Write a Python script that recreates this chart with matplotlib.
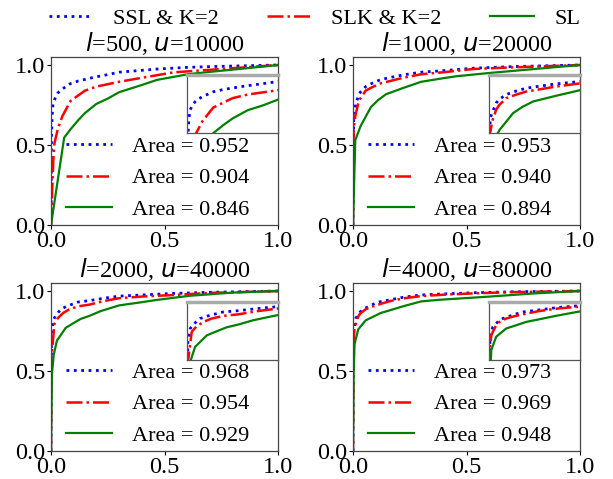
import matplotlib
matplotlib.use("Agg")
import matplotlib.pyplot as plt

plt.rcParams['font.family'] = ['Liberation Serif', 'DejaVu Sans']
plt.rcParams['mathtext.fontset'] = 'dejavusans'

titles = ["$l$=500, $u$=10000", "$l$=1000, $u$=20000",
          "$l$=2000, $u$=40000", "$l$=4000, $u$=80000"]
series_names = ["SSL & K=2", "SLK & K=2", "SL"]
areas = [[0.952, 0.904, 0.846], [0.953, 0.940, 0.894],
         [0.968, 0.954, 0.929], [0.973, 0.969, 0.948]]

# Panel 1: l=500
p1_ssl_fpr = [0, 0.002, 0.005, 0.009, 0.02, 0.03, 0.05, 0.086, 0.12, 0.195, 0.25, 0.3, 0.47, 0.6, 0.7, 0.85, 1.0]
p1_ssl_tpr = [0, 0.55, 0.68, 0.757, 0.80, 0.825, 0.85, 0.884, 0.90, 0.925, 0.94, 0.955, 0.975, 0.985, 0.99, 0.995, 1.0]
p1_slk_fpr = [0, 0.003, 0.01, 0.015, 0.03, 0.05, 0.086, 0.12, 0.15, 0.2, 0.3, 0.4, 0.54, 0.7, 0.85, 1.0]
p1_slk_tpr = [0, 0.12, 0.4, 0.51, 0.60, 0.68, 0.775, 0.81, 0.84, 0.865, 0.895, 0.92, 0.954, 0.97, 0.985, 1.0]
p1_sl_fpr = [0, 0.058, 0.087, 0.12, 0.15, 0.2, 0.25, 0.3, 0.4, 0.467, 0.606, 0.7, 0.85, 1.0]
p1_sl_tpr = [0, 0.546, 0.60, 0.655, 0.70, 0.757, 0.79, 0.83, 0.875, 0.907, 0.943, 0.957, 0.978, 1.0]

# Panel 2: l=1000
p2_ssl_fpr = [0, 0.003, 0.01, 0.023, 0.032, 0.056, 0.09, 0.123, 0.164, 0.22, 0.3, 0.4, 0.53, 0.7, 1.0]
p2_ssl_tpr = [0, 0.70, 0.74, 0.806, 0.83, 0.865, 0.89, 0.909, 0.922, 0.938, 0.955, 0.965, 0.98, 0.99, 1.0]
p2_slk_fpr = [0, 0.003, 0.01, 0.023, 0.032, 0.056, 0.09, 0.123, 0.164, 0.22, 0.3, 0.4, 0.53, 0.7, 1.0]
p2_slk_tpr = [0, 0.60, 0.68, 0.76, 0.79, 0.84, 0.865, 0.886, 0.90, 0.92, 0.942, 0.955, 0.975, 0.985, 1.0]
p2_sl_fpr = [0, 0.01, 0.034, 0.079, 0.11, 0.145, 0.22, 0.3, 0.4, 0.457, 0.6, 0.8, 1.0]
p2_sl_tpr = [0, 0.53, 0.62, 0.737, 0.78, 0.817, 0.856, 0.895, 0.918, 0.93, 0.95, 0.975, 1.0]

# Panel 3: l=2000
p3_ssl_fpr = [0, 0.002, 0.01, 0.02, 0.043, 0.07, 0.119, 0.17, 0.229, 0.3, 0.4, 0.54, 0.7, 1.0]
p3_ssl_tpr = [0, 0.72, 0.817, 0.845, 0.886, 0.905, 0.931, 0.94, 0.954, 0.968, 0.975, 0.985, 0.992, 1.0]
p3_slk_fpr = [0, 0.002, 0.015, 0.03, 0.054, 0.08, 0.119, 0.17, 0.229, 0.3, 0.4, 0.54, 0.7, 1.0]
p3_slk_tpr = [0, 0.58, 0.794, 0.83, 0.863, 0.885, 0.904, 0.915, 0.936, 0.955, 0.965, 0.975, 0.988, 1.0]
p3_sl_fpr = [0, 0.004, 0.012, 0.026, 0.065, 0.1, 0.13, 0.17, 0.218, 0.3, 0.4, 0.47, 0.61, 0.8, 1.0]
p3_sl_tpr = [0, 0.48, 0.60, 0.69, 0.77, 0.80, 0.825, 0.845, 0.874, 0.91, 0.93, 0.945, 0.97, 0.99, 1.0]

# Panel 4: l=4000
p4_ssl_fpr = [0, 0.002, 0.003, 0.012, 0.032, 0.045, 0.09, 0.112, 0.164, 0.222, 0.3, 0.4, 0.53, 0.7, 1.0]
p4_ssl_tpr = [0, 0.70, 0.749, 0.829, 0.87, 0.886, 0.918, 0.931, 0.945, 0.961, 0.975, 0.982, 0.989, 0.995, 1.0]
p4_slk_fpr = [0, 0.002, 0.007, 0.023, 0.032, 0.056, 0.09, 0.123, 0.164, 0.222, 0.3, 0.4, 0.53, 0.7, 1.0]
p4_slk_tpr = [0, 0.68, 0.771, 0.84, 0.86, 0.886, 0.905, 0.92, 0.937, 0.954, 0.968, 0.977, 0.985, 0.993, 1.0]
p4_sl_fpr = [0, 0.003, 0.007, 0.023, 0.056, 0.09, 0.123, 0.164, 0.222, 0.3, 0.38, 0.6, 0.8, 1.0]
p4_sl_tpr = [0, 0.50, 0.669, 0.76, 0.817, 0.84, 0.863, 0.88, 0.905, 0.935, 0.945, 0.965, 0.985, 1.0]

panels = [
    [(p1_ssl_fpr, p1_ssl_tpr), (p1_slk_fpr, p1_slk_tpr), (p1_sl_fpr, p1_sl_tpr)],
    [(p2_ssl_fpr, p2_ssl_tpr), (p2_slk_fpr, p2_slk_tpr), (p2_sl_fpr, p2_sl_tpr)],
    [(p3_ssl_fpr, p3_ssl_tpr), (p3_slk_fpr, p3_slk_tpr), (p3_sl_fpr, p3_sl_tpr)],
    [(p4_ssl_fpr, p4_ssl_tpr), (p4_slk_fpr, p4_slk_tpr), (p4_sl_fpr, p4_sl_tpr)],
]

ticks = [0.0, 0.5, 1.0]
tick_labels = ["0.0", "0.5", "1.0"]
colors = ["blue", "red", "green"]
styles = [":", "-.", "-"]
widths = [2.0, 1.8, 1.6]

fig = plt.figure(figsize=(6.13, 4.79), dpi=100)
lefts = [51 / 613, 353 / 613]
bottoms = [(479 - 225) / 479, (479 - 451) / 479]
w, h = 227 / 613, 168 / 479
inset_rects = [[0.6, 0.548, 0.4, 0.345], [0.6, 0.548, 0.4, 0.345],
               [0.6, 0.542, 0.4, 0.345], [0.6, 0.542, 0.4, 0.345]]

fig_handles = []
for i in range(4):
    r, c = divmod(i, 2)
    ax = fig.add_axes([lefts[c], bottoms[r], w, h])
    lines = []
    for k, (fx, ty) in enumerate(panels[i]):
        ln, = ax.plot(fx, ty, color=colors[k], linestyle=styles[k], linewidth=widths[k],
                      label="Area = %.3f" % areas[i][k])
        lines.append(ln)
    if i == 0:
        fig_handles = lines
    ax.set_xlim(0, 1)
    ax.set_ylim(0, 1.05)
    ax.set_xticks(ticks)
    ax.set_xticklabels(tick_labels)
    ax.set_yticks(ticks)
    ax.set_yticklabels(tick_labels)
    ax.tick_params(labelsize=17.5, length=3, width=0.8, pad=1)
    for s in ax.spines.values():
        s.set_color('#444444')
        s.set_linewidth(0.9)
    ax.set_title(titles[i], fontsize=17.5, pad=0.5)
    ax.legend(loc='lower left', frameon=False, fontsize=16, handlelength=2.1,
              handletextpad=0.9, labelspacing=0.5, borderaxespad=0.05,
              bbox_to_anchor=(0.02, -0.03))
    # inset
    ins = ax.inset_axes(inset_rects[i])
    for k, (fx, ty) in enumerate(panels[i]):
        ins.plot(fx, ty, color=colors[k], linestyle=styles[k], linewidth=widths[k])
    ins.set_xlim(0, 0.3)
    ins.set_ylim(0.6, 1.0)
    ins.set_xticks([])
    ins.set_yticks([])
    for s in ins.spines.values():
        s.set_color('#555555')
        s.set_linewidth(0.9)
    ins.spines['top'].set_color('#aaaaaa')
    ins.spines['top'].set_linewidth(2.5)

fig.legend(fig_handles, series_names, loc='upper center', ncol=3, frameon=False,
           fontsize=16, handlelength=2.0, columnspacing=2.15, handletextpad=0.9,
           bbox_to_anchor=(0.513, 1.024))

fig.savefig("out.png", dpi=100)
